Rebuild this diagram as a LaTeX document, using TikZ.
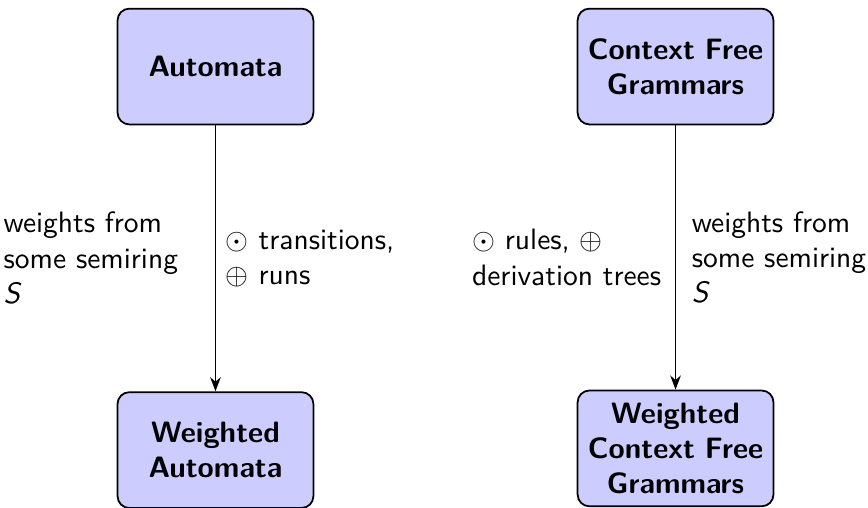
\documentclass[tikz,border=0pt]{standalone}
\usepackage{amsmath}
\usepackage{amssymb}
\usetikzlibrary{arrows.meta,positioning}
\renewcommand{\familydefault}{\sfdefault}

\tikzset{
	formalism/.style={draw,semithick,rounded corners,fill=blue!20,font=\bfseries,
		align=center,text width=2.1cm,minimum width=2.32cm,minimum height=1.38cm},
	lbl/.style={align=left,text width=#1},
}

\begin{document}
\begin{tikzpicture}
	\useasboundingbox (0,0) rectangle (10.345,6.043);
	\node[formalism] (aut) at (2.568,5.250) {Automata};
	\node[formalism] (cfg) at (8.051,5.250) {Context Free\\Grammars};
	\node[formalism,below=3.17cm of aut] (waut) {Weighted\\Automata};
	\node[formalism,below=3.15cm of cfg] (wcfg) {Weighted\\Context Free\\Grammars};
	\draw[-Stealth] (aut) -- node[left,lbl=2.4cm] {weights from some semiring \textsl{S}}
		node[right,lbl=2.1cm] {$\odot$ transitions, $\oplus$ runs} (waut);
	\draw[-Stealth] (cfg) -- node[left,lbl=2.3cm] {$\odot$ rules, $\oplus$ derivation trees}
		node[right,xshift=2pt,lbl=2.1cm] {weights from some semiring \textsl{S}} (wcfg);
\end{tikzpicture}
\end{document}
